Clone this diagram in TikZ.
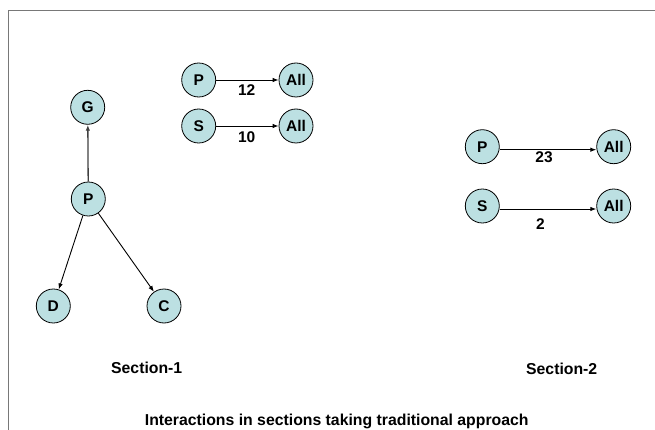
\documentclass[tikz,border=0pt]{standalone}
\usepackage{fontspec}
\setmainfont{Liberation Sans}
\usetikzlibrary{arrows.meta}
\definecolor{nodefill}{RGB}{188,224,226}
\definecolor{framegray}{RGB}{120,120,120}
\begin{document}
\begin{tikzpicture}[x=1pt,y=-1pt,
  vertex/.style={circle,draw=black,line width=0.8pt,fill=nodefill,minimum size=34pt,inner sep=0pt,font=\fontsize{15.5}{18}\selectfont\bfseries},
  conn/.style={line width=0.9pt,-{Latex[length=6pt,width=4.5pt]}},
  lbl/.style={font=\fontsize{15.5}{18}\selectfont\bfseries,inner sep=0pt},
  caption/.style={font=\fontsize{15.8}{18}\selectfont\bfseries,inner sep=0pt}]
\useasboundingbox (0,0) rectangle (655,430);
\draw[framegray,line width=1.4pt] (8.3,430) -- (8.3,10.7) -- (655,10.7);
% Section 1 tree
\node[vertex] (G) at (87.7,107.3) {G};
\node[vertex] (P1) at (88.3,199) {P};
\node[vertex] (D) at (53.3,306) {D};
\node[vertex] (C) at (164,306) {C};
\draw[conn,line width=1.3pt,draw=black!75] (P1) -- (G);
\draw[conn] (P1) -- (D);
\draw[conn] (P1) -- (C);
% Section 1 pairs
\node[vertex] (P2) at (198.7,80) {P};
\node[vertex] (A1) at (296,80) {All};
\node[vertex] (S1) at (198.7,126) {S};
\node[vertex] (A2) at (296,126) {All};
\draw[conn] (P2) -- (A1);
\draw[conn] (S1) -- (A2);
\node[lbl] (l12) at (246.7,90.5) {12};
\node[lbl] (l10) at (246.7,137) {10};
% Section 2 pairs
\node[vertex] (P3) at (482.3,146.7) {P};
\node[vertex] (A3) at (613.7,146.7) {All};
\node[vertex] (S2) at (482.3,206) {S};
\node[vertex] (A4) at (613.7,206) {All};
\draw[conn] ([yshift=-3pt]P3.east) -- ([yshift=-3pt]A3.west);
\draw[conn] ([yshift=-3pt]S2.east) -- ([yshift=-3pt]A4.west);
\node[lbl] (l23) at (544,157.3) {23};
\node[lbl,anchor=west] (l2) at (536,224) {2};
% captions
\node[caption] (s1) at (146.7,368.3) {Section-1};
\node[caption] (s2) at (561.7,369.3) {Section-2};
\node[caption] (cap) at (336.7,421) {Interactions in sections taking traditional approach};
\end{tikzpicture}
\end{document}
